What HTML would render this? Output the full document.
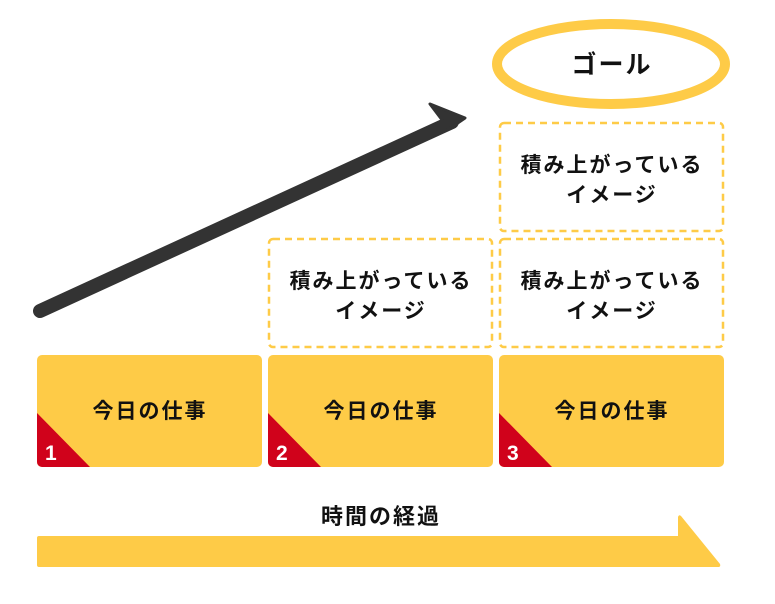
<!DOCTYPE html>
<html><head><meta charset="utf-8"><style>
body{margin:0;background:#fff;width:775px;height:599px;overflow:hidden}
text{font-family:"Liberation Sans","Noto Sans CJK JP",sans-serif;font-weight:bold;fill:#111}
.ls{letter-spacing:2px}
</style></head><body>
<svg width="775" height="599" viewBox="0 0 775 599">
<ellipse cx="611" cy="64" rx="114" ry="40" fill="none" stroke="#fecb47" stroke-width="10"/>
<text class="ls" x="612" y="73" font-size="25" text-anchor="middle">ゴール</text>
<line x1="40" y1="311" x2="452" y2="122" stroke="#333" stroke-width="14" stroke-linecap="round"/>
<polygon points="430,104 465,118 449,129" fill="#333" stroke="#333" stroke-width="3" stroke-linejoin="round"/>
<g fill="none" stroke="#fecb47" stroke-width="2.5" stroke-dasharray="7,5">
<rect x="269" y="239" width="223" height="108" rx="4"/>
<rect x="500" y="239" width="223" height="108" rx="4"/>
<rect x="500" y="123" width="223" height="108" rx="4"/>
</g>
<g class="ls" font-size="21" text-anchor="middle">
<text x="381" y="288">積み上がっている</text><text x="381" y="318">イメージ</text>
<text x="612" y="288">積み上がっている</text><text x="612" y="318">イメージ</text>
<text x="612" y="172">積み上がっている</text><text x="612" y="202">イメージ</text>
</g>
<defs><clipPath id="c1"><rect x="37" y="355" width="225" height="112" rx="5"/></clipPath>
<clipPath id="c2"><rect x="268" y="355" width="225" height="112" rx="5"/></clipPath>
<clipPath id="c3"><rect x="499" y="355" width="225" height="112" rx="5"/></clipPath></defs>
<g clip-path="url(#c1)"><rect x="37" y="355" width="225" height="112" fill="#fecb47"/><polygon points="37,413 37,467 90,467" fill="#d0021b"/></g>
<g clip-path="url(#c2)"><rect x="268" y="355" width="225" height="112" fill="#fecb47"/><polygon points="268,413 268,467 321,467" fill="#d0021b"/></g>
<g clip-path="url(#c3)"><rect x="499" y="355" width="225" height="112" fill="#fecb47"/><polygon points="499,413 499,467 552,467" fill="#d0021b"/></g>
<g class="ls" font-size="21" text-anchor="middle">
<text x="150" y="418">今日の仕事</text><text x="381" y="418">今日の仕事</text><text x="612" y="418">今日の仕事</text>
</g>
<g font-size="21"><text x="45" y="460" style="fill:#fff">1</text><text x="276" y="460" style="fill:#fff">2</text><text x="507" y="460" style="fill:#fff">3</text></g>
<text class="ls" x="381" y="524" font-size="22" text-anchor="middle">時間の経過</text>
<path d="M39,536 L678,536 L678,517 Q679,514 681,516 L720,564 Q721,567 718,567 L39,567 Q37,567 37,565 L37,538 Q37,536 39,536Z" fill="#fecb47"/>
</svg>
</body></html>
